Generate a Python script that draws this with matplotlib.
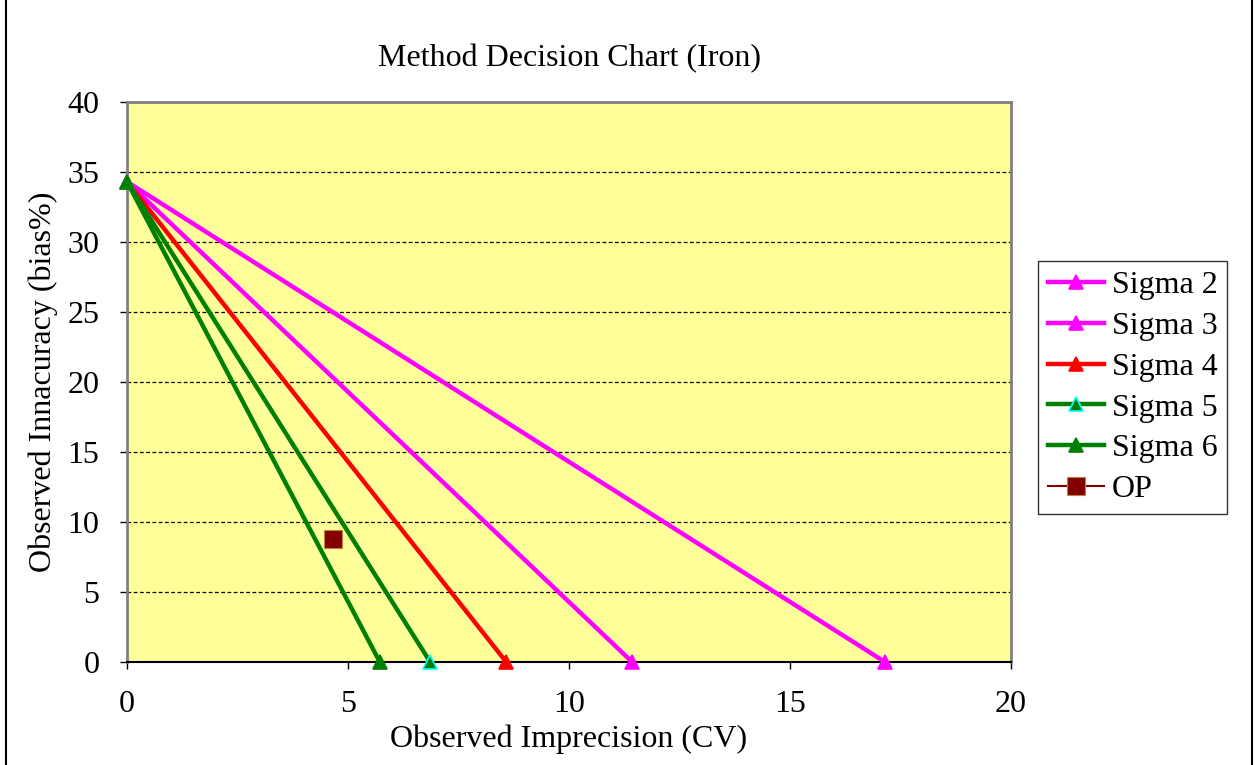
import matplotlib
matplotlib.use("Agg")
import matplotlib.pyplot as plt
from matplotlib.lines import Line2D

plt.rcParams['font.family'] = ['Liberation Serif', 'DejaVu Serif']

# Allowable total error (bias % at zero CV) and CV intercepts for each sigma level
tea = 34.3
series_names = ["Sigma 2", "Sigma 3", "Sigma 4", "Sigma 5", "Sigma 6"]
cv_intercepts = [17.15, 11.43, 8.58, 6.86, 5.72]
line_colors = ["#FF00FF", "#FF00FF", "#FF0000", "#008000", "#008000"]
marker_faces = ["#FF00FF", "#FF00FF", "#FF0000", "#008000", "#008000"]
marker_edges = ["#FF00FF", "#FF00FF", "#FF0000", "#00FFFF", "#008000"]

# Operating point
op_cv = [4.65]
op_bias = [8.8]

x_ticks = [0, 5, 10, 15, 20]
y_ticks = [0, 5, 10, 15, 20, 25, 30, 35, 40]

FS = 23

fig = plt.figure(figsize=(12.59, 7.65), dpi=100)
ax = fig.add_axes([0.1009, 0.1346, 0.7021, 0.7321])
ax.set_facecolor("#FFFF99")

for name, xi, lc, mf, me in zip(series_names, cv_intercepts, line_colors,
                                marker_faces, marker_edges):
    ax.plot([0, xi], [tea, 0], color=lc, lw=3.2, marker="^", markersize=10,
            markerfacecolor=mf, markeredgecolor=me, markeredgewidth=1.2,
            label=name, clip_on=False, zorder=3)

ax.plot(op_cv, op_bias, linestyle="-", color="#800000", lw=1.5, marker="s",
        markersize=13, markerfacecolor="#800000", markeredgecolor="#C08040",
        markeredgewidth=0.8, label="OP", clip_on=False, zorder=4)

ax.set_xlim(0, 20)
ax.set_ylim(0, 40)
ax.set_xticks(x_ticks)
ax.set_yticks(y_ticks)
ax.tick_params(axis="both", direction="out", length=5, width=1, color="black",
               labelsize=FS)
ax.tick_params(axis="y", pad=15)
ax.tick_params(axis="x", pad=15)
ax.yaxis.grid(True, linestyle=(0, (3, 2)), color="black", lw=0.9)
ax.set_axisbelow(True)
for side in ["left", "top", "right"]:
    ax.spines[side].set_color("#808080")
    ax.spines[side].set_linewidth(2)
ax.spines["bottom"].set_color("black")
ax.spines["bottom"].set_linewidth(1.5)

ax.set_title("Method Decision Chart (Iron)", fontsize=FS, pad=26)
ax.set_xlabel("Observed Imprecision (CV)", fontsize=FS, labelpad=4)
ax.set_ylabel("Observed Innacuracy (bias%)", fontsize=FS, labelpad=7)

leg = ax.legend(loc="upper left", bbox_to_anchor=(1.031, 0.716),
                fontsize=23, frameon=True, fancybox=False, edgecolor="black",
                handlelength=1.75, handletextpad=0.25, labelspacing=0.36,
                borderpad=0.3, borderaxespad=0)
leg.get_frame().set_linewidth(1)

# Outer chart border lines
fig.add_artist(Line2D([6 / 1259, 6 / 1259], [0, 1], color="black", lw=1.5,
                      transform=fig.transFigure))
fig.add_artist(Line2D([1252 / 1259, 1252 / 1259], [0, 1], color="black", lw=1.5,
                      transform=fig.transFigure))

fig.savefig("out.png", dpi=100)
